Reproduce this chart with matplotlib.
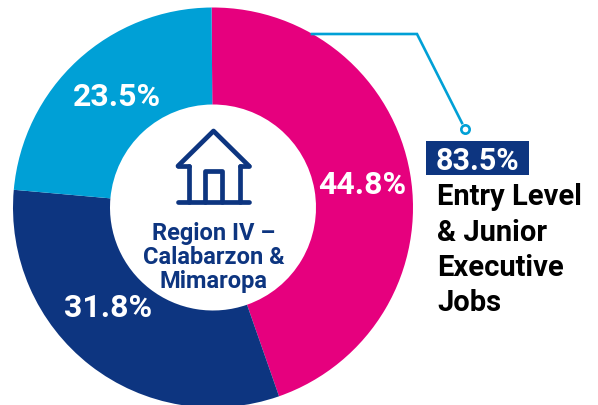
import matplotlib
matplotlib.use('Agg')
import matplotlib.pyplot as plt

values = [44.8, 31.8, 23.5]
value_labels = ['44.8%', '31.8%', '23.5%']
colors = ['#E6007E', '#0D3580', '#00A0D6']
center_text = ['Region IV –', 'Calabarzon &', 'Mimaropa']
callout_value = '83.5%'
callout_text = ['Entry Level', '& Junior', 'Executive', 'Jobs']

NAVY = '#0D3580'
BLUE = '#00A0D6'
H = 406

plt.rcParams['font.family'] = ['Roboto', 'DejaVu Sans']

fig = plt.figure(figsize=(5.98, 4.06), dpi=100)
ax = fig.add_axes([0, 0, 1, 1])

# work in image pixels, y measured from the bottom
def py(y):
    return H - y

cx, cy, r = 213, py(208.5), 200
ax.pie(values, colors=colors, startangle=90.4, counterclock=False,
       center=(cx, cy), radius=r, wedgeprops=dict(width=r - 103, linewidth=0))
ax.set_xlim(0, 598)
ax.set_ylim(0, H)
ax.set_aspect('equal')
ax.axis('off')

# value labels on the ring
ax.text(362, py(194), value_labels[0], color='white', fontsize=23, fontweight='bold', ha='center', va='baseline')
ax.text(108, py(317), value_labels[1], color='white', fontsize=23, fontweight='bold', ha='center', va='baseline')
ax.text(117, py(106), value_labels[2], color='white', fontsize=23, fontweight='bold', ha='center', va='baseline')

# house icon
house = dict(color=NAVY, lw=3.4, solid_capstyle='round', solid_joinstyle='round')
ax.plot([178, 213.5, 249], [py(167), py(132), py(167)], **house)
ax.plot([178, 188.5], [py(167), py(167)], **house)
ax.plot([239.5, 249], [py(167), py(167)], **house)
ax.plot([178, 249], [py(203), py(203)], **house)
ax.plot([188.5, 188.5], [py(167), py(203)], **house)
ax.plot([239.5, 239.5], [py(167), py(203)], **house)
ax.plot([205, 205, 222, 222], [py(203), py(172), py(172), py(203)], **house)

# centre label
for line, y in zip(center_text, [240, 264, 288]):
    ax.text(213.5, py(y), line, color=NAVY, fontsize=17, fontweight='bold', ha='center', va='baseline')

# callout line
ax.plot([312, 417, 462], [py(35), py(35), py(124)], color=BLUE, lw=1.9, solid_joinstyle='miter')
ax.plot([464.7], [py(129.7)], marker='o', ms=6, mfc='white', mec=BLUE, mew=1.9, ls='none')

# callout value box
ax.add_patch(plt.Rectangle((426, py(176)), 103, 34, fc=NAVY, ec='none'))
ax.text(477.5, py(170), callout_value, color='white', fontsize=22, fontweight='bold', ha='center', va='baseline')

for line, y in zip(callout_text, [205, 241, 276, 311]):
    ax.text(437, py(y), line, color='black', fontsize=21, fontweight='bold', ha='left', va='baseline')

fig.savefig('out.png', dpi=100)
